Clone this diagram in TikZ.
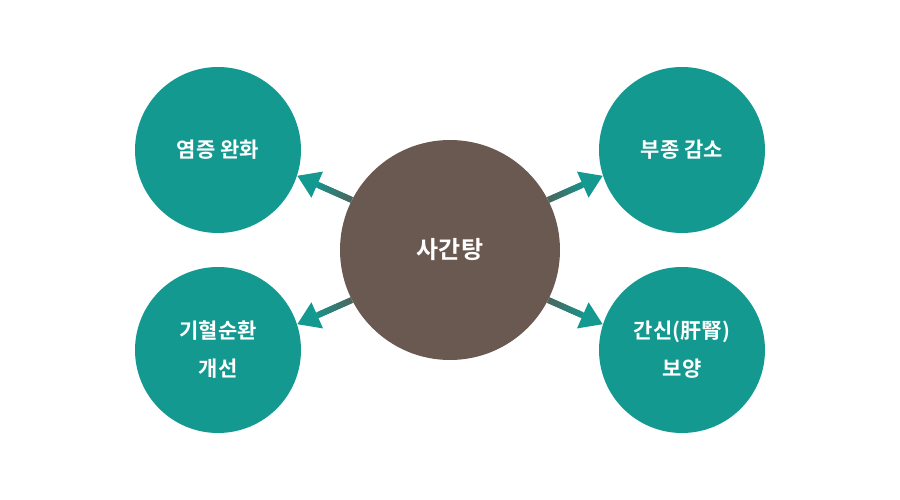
\documentclass[tikz,border=0pt]{standalone}
\usepackage{fontspec}
\setmainfont{Noto Sans CJK KR}[BoldFont={* Bold}]
\usetikzlibrary{arrows.meta,calc}
\definecolor{tealc}{HTML}{139990}
\definecolor{brownc}{HTML}{6A5950}
\definecolor{shaftdark}{HTML}{4C665E}
\tikzset{
  sat/.style={circle,fill=tealc,minimum size=166pt,inner sep=0pt,text=white,font=\fontsize{21}{38}\selectfont\bfseries,align=center},
  hub/.style={circle,fill=brownc,minimum size=220pt,inner sep=0pt,text=white,font=\fontsize{24}{30}\selectfont\bfseries},
  arr/.style={line width=6pt,tealc,-{Triangle[length=22pt,width=27pt]}}
}
\newcommand{\gradarrow}[2]{%
  \draw[arr] (#1) -- (#2);
  \foreach \i in {0,...,11}{%
    \pgfmathsetmacro\ta{\i*0.05}%
    \pgfmathsetmacro\tb{\i*0.05+0.055}%
    \pgfmathsetmacro\pc{100-\i*7}%
    \draw[line width=6pt,shaftdark!\pc!tealc] ($(#1)!\ta!(#2)$) -- ($(#1)!\tb!(#2)$);
  }%
}
\begin{document}
\begin{tikzpicture}[x=1pt,y=-1pt]
\useasboundingbox (0,0) rectangle (900,500);
\node[hub] (c) at (450,250) {사간탕};
\node[sat] (tl) at (218,150) {염증 완화};
\node[sat] (bl) at (218,350) {기혈순환\\개선};
\node[sat] (tr) at (682,150) {부종 감소};
\node[sat] (br) at (682,350) {간신(肝腎)\\보양};
\coordinate (s1) at (c.153);
\coordinate (e1) at (tl.342);
\coordinate (s2) at (c.207);
\coordinate (e2) at (bl.18);
\coordinate (s3) at (c.27);
\coordinate (e3) at (tr.198);
\coordinate (s4) at (c.333);
\coordinate (e4) at (br.162);
\gradarrow{s1}{e1}
\gradarrow{s2}{e2}
\gradarrow{s3}{e3}
\gradarrow{s4}{e4}
\end{tikzpicture}
\end{document}
